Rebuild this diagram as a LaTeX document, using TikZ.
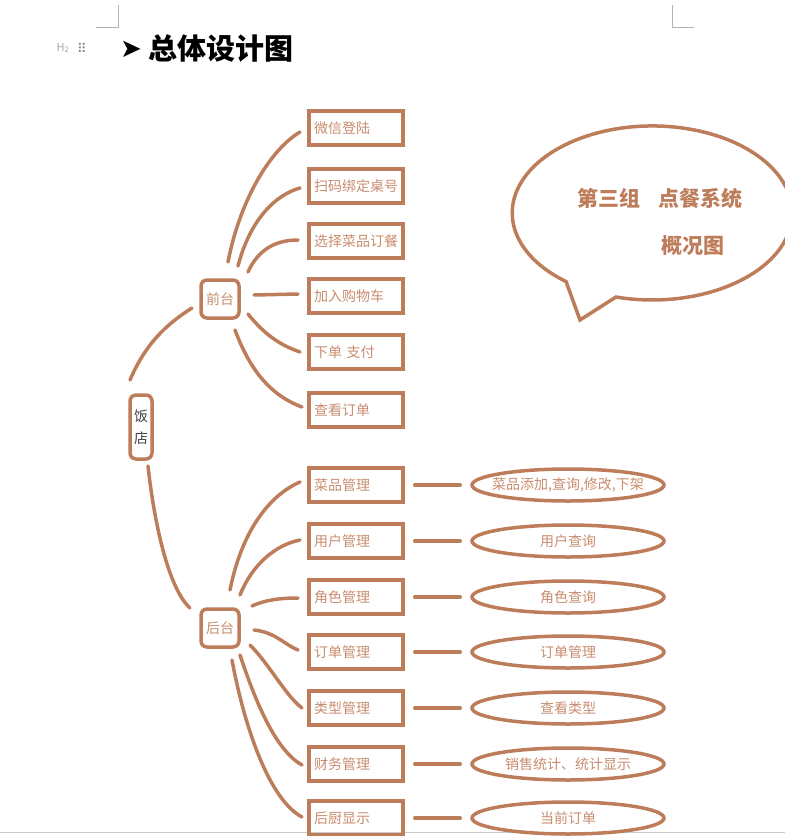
\documentclass[tikz,border=0pt]{standalone}
\usepackage{fontspec}
\usetikzlibrary{shapes.geometric}
\setmainfont{Noto Sans CJK SC}
\newfontfamily\djfont{DejaVu Sans}
\begin{document}
\begin{tikzpicture}[x=1pt,y=-1pt,
  br/.style={draw=brn,line width=3.5pt},
  lk/.style={draw=brn,line width=3.5pt,line cap=round},
  bx/.style={br,minimum width=94pt,minimum height=34pt,inner sep=0pt,text=txt,font=\fontsize{14}{14}\selectfont,text width=84pt,align=left},
  hub/.style={br,rounded corners=6pt,minimum width=38pt,minimum height=38pt,inner sep=0pt,text=txt,font=\fontsize{14}{14}\selectfont},
  el/.style={br,ellipse,minimum width=192pt,minimum height=32pt,inner ysep=0pt,inner xsep=-25pt,text=txt,font=\fontsize{14}{14}\selectfont},
]
\definecolor{brn}{RGB}{190,125,90}
\definecolor{txt}{RGB}{200,140,110}
\useasboundingbox (0,0) rectangle (785,836);
\draw[gray!60,line width=0.8pt] (118,5)--(118,27)--(96,27) (672,5)--(672,27)--(694,27);
\draw[gray!40,line width=1pt] (0,832)--(785,832);
\node[text=gray!70,font=\fontsize{11}{11}\selectfont] (h2) at (63,48) {H\textsubscript{2}};
\node[text=gray,font=\djfont\fontsize{13}{13}\selectfont] (dots) at (82,48) {⠿};
\node[font=\djfont\fontsize{26}{26}\selectfont] (arr) at (131,49) {➤};
\node[anchor=west,font=\bfseries\fontsize{29}{29}\selectfont] (title) at (145,48) {总体设计图};

\node[br,rounded corners=6pt,minimum width=22pt,minimum height=64pt,inner sep=0pt,text=black!75,font=\fontsize{14}{14}\selectfont,align=center] (root) at (141,427) {饭\\[8pt]店};
\node[hub] (fd) at (220,299) {前台};
\node[hub] (bd) at (220,628) {后台};

\foreach \n/\y/\t in {a1/128/微信登陆,a2/186/扫码绑定桌号,a3/241/选择菜品订餐,a4/296/加入购物车,a5/352/下单 支付,a6/410/查看订单}
  \node[bx] (\n) at (356,\y) {\t};
\foreach \n/\y/\t/\e in {b1/485/菜品管理/{菜品添加,查询,修改,下架},b2/541/用户管理/用户查询,b3/597/角色管理/角色查询,b4/652/订单管理/订单管理,b5/708/类型管理/查看类型,b6/764/财务管理/销售统计、统计显示,b7/818/后厨显示/当前订单}{
  \node[bx] (\n) at (356,\y) {\t};
  \node[el] (e\n) at (568,\y) {\e};
  \draw[lk] ([xshift=10pt]\n.east) -- ([xshift=-10pt]e\n.west);
}
% root links
\draw[lk] (130,380) .. controls (145,345) and (165,325) .. (192,308);
\draw[lk] (148,466) .. controls (155,530) and (170,590) .. (190,608);
% front links
\draw[lk] (228,262) .. controls (240,200) and (270,150) .. (300,132);
\draw[lk] (238,266) .. controls (250,220) and (275,195) .. (300,188);
\draw[lk] (248,272) .. controls (258,250) and (275,240) .. (298,240);
\draw[lk] (254,295) -- (298,294);
\draw[lk] (248,314) .. controls (265,335) and (280,345) .. (300,352);
\draw[lk] (235,330) .. controls (250,370) and (270,395) .. (302,407);
% back links
\draw[lk] (230,590) .. controls (242,530) and (270,495) .. (300,482);
\draw[lk] (240,595) .. controls (252,565) and (275,545) .. (300,540);
\draw[lk] (252,606) .. controls (265,600) and (280,598) .. (298,598);
\draw[lk] (254,630) .. controls (275,632) and (285,645) .. (298,650);
\draw[lk] (250,645) .. controls (270,665) and (285,695) .. (302,708);
\draw[lk] (240,655) .. controls (255,700) and (275,750) .. (302,765);
\draw[lk] (232,660) .. controls (245,730) and (270,800) .. (302,817);
% bubble
\draw[br] (616,297) arc[start angle=105,end angle=-232,x radius=140,y radius=87] -- (580,320) -- cycle;
\node[text=brn,font=\bfseries\fontsize{21}{21}\selectfont] (b1t) at (660,198) {第三组\hspace{18pt}点餐系统};
\node[text=brn,font=\bfseries\fontsize{21}{21}\selectfont] (b2t) at (693,246) {概况图};
\end{tikzpicture}
\end{document}
